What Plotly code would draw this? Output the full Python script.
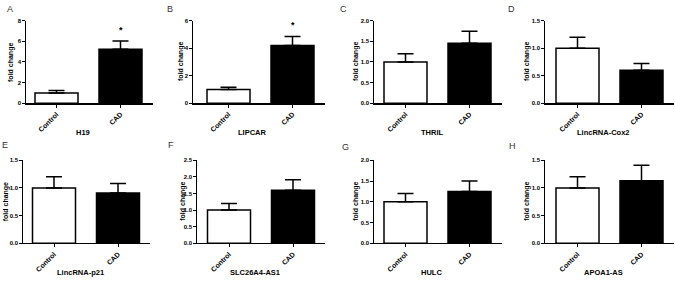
import plotly.graph_objects as go

genes = ["H19", "LIPCAR", "THRIL", "LincRNA-Cox2", "LincRNA-p21", "SLC26A4-AS1", "HULC", "APOA1-AS"]
panel_letters = ["A", "B", "C", "D", "E", "F", "G", "H"]
groups = ["Control", "CAD"]
control_mean = [1.0, 1.0, 1.0, 1.0, 1.0, 1.0, 1.0, 1.0]
control_err = [0.24, 0.17, 0.2, 0.2, 0.2, 0.2, 0.2, 0.2]
cad_mean = [5.22, 4.19, 1.45, 0.6, 0.91, 1.6, 1.25, 1.13]
cad_err = [0.8, 0.66, 0.29, 0.12, 0.17, 0.31, 0.25, 0.28]
y_max = [8, 6, 2.0, 1.5, 1.5, 2.5, 2.0, 1.5]
y_step = [2, 2, 0.5, 0.5, 0.5, 0.5, 0.5, 0.5]
significant = [True, True, False, False, False, False, False, False]
star_y = [7.1, 5.7, None, None, None, None, None, None]

W, H = 675, 281
# layout (pixels): y-axis position, control bar center, row top/bottom
axis_px = [26, 193, 374, 545, 23, 197, 374, 545]
ctrl_px = [56.5, 228.5, 405.5, 577.5, 54, 229, 405.5, 577.5]
ytitle_px = [11, 181, 356, 527, 5.5, 183, 356, 527]
letter_pos = [(10, 6), (170, 6), (343, 6), (511, 6), (5, 145), (171, 145), (345, 147), (512, 146)]
row_top = [18, 160.7]
row_bot = [102.5, 245.5]
xtitle_y = [132, 275]
UNIT = 64.0
BARW = 43 / UNIT

FAM = "Liberation Sans, Arial"

fig = go.Figure()
annotations = []
for i in range(8):
    row = i // 4
    ax = "" if i == 0 else str(i + 1)
    left = axis_px[i]
    right = ctrl_px[i] + UNIT + UNIT / 2
    x0 = -(ctrl_px[i] - left) / UNIT
    x1 = 1.5
    fig.add_trace(go.Bar(
        x=[0, 1], y=[control_mean[i], cad_mean[i]],
        width=[BARW, BARW],
        marker=dict(color=["white", "black"], line=dict(color="black", width=1.5)),
        error_y=dict(type="data", symmetric=False,
                     array=[control_err[i], cad_err[i]], arrayminus=[0, 0],
                     color="black", thickness=1.5, width=8),
        xaxis="x" + ax, yaxis="y" + ax, showlegend=False, hoverinfo="skip",
    ))
    n = int(round(y_max[i] / y_step[i]))
    tv = [k * y_step[i] for k in range(n + 1)]
    fmt = "{:.0f}" if y_step[i] >= 1 else "{:.1f}"
    fig.update_layout(**{
        "xaxis" + ax: dict(
            domain=[left / W, right / W], range=[x0, x1], anchor="y" + ax,
            tickmode="array", tickvals=[0, 1], ticktext=groups, tickangle=-45,
            showline=True, linecolor="black", linewidth=1.2, ticks="outside",
            ticklen=3, tickwidth=1, tickcolor="black", showgrid=False,
            zeroline=False, tickfont=dict(family=FAM, size=7, color="black", weight="bold"),
            fixedrange=True,
        ),
        "yaxis" + ax: dict(
            domain=[1 - row_bot[row] / H, 1 - row_top[row] / H], range=[0, y_max[i]],
            anchor="x" + ax, tickmode="array", tickvals=tv,
            ticktext=[fmt.format(v) for v in tv],
            showline=True, linecolor="black", linewidth=1.2, ticks="outside",
            ticklen=2.5, tickwidth=1, tickcolor="black", showgrid=False,
            zeroline=False, tickfont=dict(family=FAM, size=6, color="black", weight="bold"),
            fixedrange=True,
        ),
    })
    annotations.append(dict(
        text="<b>fold change</b>", x=ytitle_px[i] / W, y=1 - ((row_top[row] + row_bot[row]) / 2) / H,
        xref="paper", yref="paper", textangle=-90, showarrow=False,
        xanchor="center", yanchor="middle", font=dict(family=FAM, size=7, color="black"),
    ))
    annotations.append(dict(
        text="<b>" + genes[i] + "</b>", x=((left + right) / 2 - 6) / W, y=1 - xtitle_y[row] / H,
        xref="paper", yref="paper", showarrow=False,
        xanchor="center", yanchor="middle", font=dict(family=FAM, size=7.5, color="black"),
    ))
    lx, ly = letter_pos[i]
    annotations.append(dict(
        text=panel_letters[i], x=lx / W, y=1 - ly / H, xref="paper", yref="paper",
        showarrow=False, xanchor="center", yanchor="middle",
        font=dict(family=FAM, size=9, color="#333333"),
    ))
    if significant[i]:
        annotations.append(dict(
            text="<b>*</b>", x=1, y=star_y[i], xref="x" + ax, yref="y" + ax,
            showarrow=False, xanchor="center", yanchor="middle",
            font=dict(family=FAM, size=9, color="black"),
        ))

fig.update_layout(
    width=W, height=H, margin=dict(l=0, r=0, t=0, b=0),
    paper_bgcolor="white", plot_bgcolor="white",
    annotations=annotations, bargap=0, hovermode=False,
)
fig.write_html("out.html", config={"displayModeBar": False, "staticPlot": True},
               post_script="document.body.style.margin='0';")
